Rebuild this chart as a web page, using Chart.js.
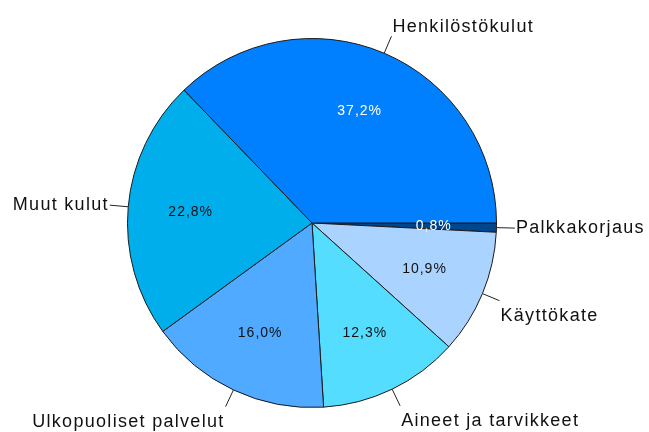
<!DOCTYPE html>
<html>
<head>
<meta charset="utf-8">
<script src="https://cdn.jsdelivr.net/npm/chart.js@4"></script>
<style>
  html, body { margin: 0; padding: 0; background: #fff; }
  #wrap { width: 649px; height: 432px; }
</style>
</head>
<body>
<div id="wrap"><canvas id="kulut"></canvas></div>
<script>
// slices listed clockwise from 3 o'clock
var categories = ["Palkkakorjaus", "Käyttökate", "Aineet ja tarvikkeet", "Ulkopuoliset palvelut", "Muut kulut", "Henkilöstökulut"];
var shares = [0.8, 10.9, 12.3, 16.0, 22.8, 37.2];
var colours = ["#00468c", "#aad4ff", "#55ddff", "#50aaff", "#00aeec", "#0080ff"];
var valueTextColours = ["#ffffff", "#111111", "#111111", "#111111", "#111111", "#ffffff"];

function fmt(v) {
  return v.toFixed(1).replace(".", ",") + "%";
}

var labelPlugin = {
  id: 'pieLabels',
  afterDatasetsDraw: function(chart) {
    var ctx = chart.ctx;
    var meta = chart.getDatasetMeta(0);
    ctx.save();
    meta.data.forEach(function(arc, i) {
      var p = arc.getProps(['x', 'y', 'startAngle', 'endAngle', 'outerRadius'], true);
      var mid = (p.startAngle + p.endAngle) / 2;
      var c = Math.cos(mid), s = Math.sin(mid);
      var r = p.outerRadius;

      // value inside
      ctx.font = '14px "Liberation Sans", Arial, sans-serif';
      ctx.letterSpacing = '1px';
      ctx.fillStyle = valueTextColours[i];
      ctx.textAlign = 'center';
      ctx.textBaseline = 'middle';
      ctx.fillText(fmt(shares[i]), p.x + c * r * 0.66, p.y + s * r * 0.66);

      // leader line
      var x1 = p.x + c * r, y1 = p.y + s * r;
      var x2 = p.x + c * r * 1.1, y2 = p.y + s * r * 1.1;
      ctx.strokeStyle = '#222';
      ctx.lineWidth = 1;
      ctx.beginPath();
      ctx.moveTo(x1, y1);
      ctx.lineTo(x2, y2);
      ctx.stroke();

      // category name
      ctx.font = '18px "Liberation Sans", Arial, sans-serif';
      ctx.letterSpacing = '1.3px';
      ctx.fillStyle = '#111';
      ctx.textAlign = c >= 0 ? 'left' : 'right';
      var ty = y2;
      if (Math.abs(s) < 0.2) {
        ctx.textBaseline = 'middle';
      } else if (s < 0) {
        ctx.textBaseline = 'bottom';
      } else {
        ctx.textBaseline = 'top';
        ty += 6;
      }
      ctx.fillText(categories[i], x2 + (c >= 0 ? 1 : -1), ty);
    });
    ctx.restore();
  }
};

function printGraficoTorta() {
  var canvas = document.getElementById("kulut");
  new Chart(canvas, {
    type: 'pie',
    data: {
      labels: categories,
      datasets: [{
        data: shares,
        backgroundColor: colours,
        borderColor: '#1a1a1a',
        borderWidth: 1
      }]
    },
    options: {
      responsive: true,
      maintainAspectRatio: false,
      animation: false,
      rotation: 90,
      layout: { padding: { left: 127, right: 152, top: 38, bottom: 24 } },
      plugins: {
        legend: { display: false },
        tooltip: { enabled: false }
      }
    },
    plugins: [labelPlugin]
  });
}

printGraficoTorta();
</script>
</body>
</html>
